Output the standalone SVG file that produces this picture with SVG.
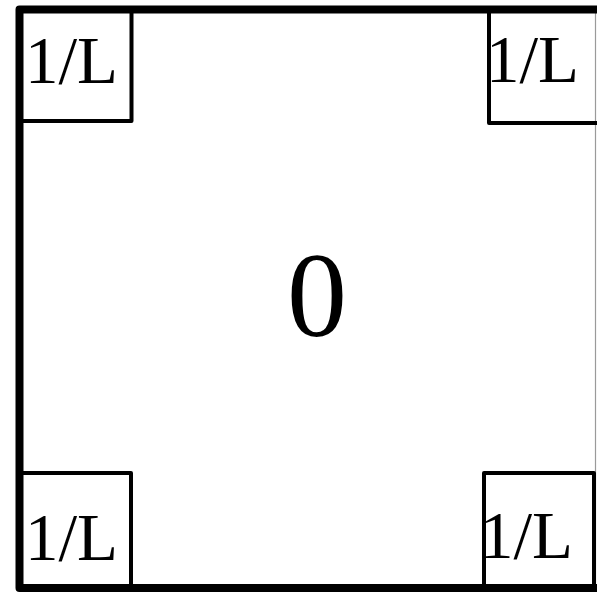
<svg xmlns="http://www.w3.org/2000/svg" width="597" height="592" viewBox="0 0 597 592">
<style>
.frame{fill:none;stroke:#000;stroke-width:8;stroke-linejoin:round;stroke-linecap:round}
.box{fill:none;stroke:#000;stroke-width:4;stroke-linejoin:round}
.lbl{font-family:"Liberation Serif","Times New Roman",serif;font-size:67px;fill:#000}
.big{font-family:"Liberation Serif","Times New Roman",serif;font-size:120px;fill:#000;text-anchor:middle}
</style>
<rect width="597" height="592" fill="#fff"/>
<g id="frame">
<line x1="595.5" y1="9.5" x2="595.5" y2="588" stroke="#9a9a9a" stroke-width="1.2"/>
<path class="frame" d="M597,9.5 H19.5 V588 H597"/>
</g>
<g id="node-tl"><path class="box" d="M131.5,9.5 V121 H19.5"/><text class="lbl" x="25" y="83">1/L</text></g>
<g id="node-tr"><path class="box" d="M489,9.5 V123 H597"/><text class="lbl" x="486" y="82">1/L</text></g>
<g id="node-bl"><path class="box" d="M19.5,473 H131 V588"/><text class="lbl" x="25" y="560">1/L</text></g>
<g id="node-br"><path class="box" d="M484,588 V473 H594 V588"/><text class="lbl" x="480" y="558">1/L</text></g>
<g id="node-center"><text class="big" x="317" y="336">0</text></g>
<g id="connectors"/>
</svg>
